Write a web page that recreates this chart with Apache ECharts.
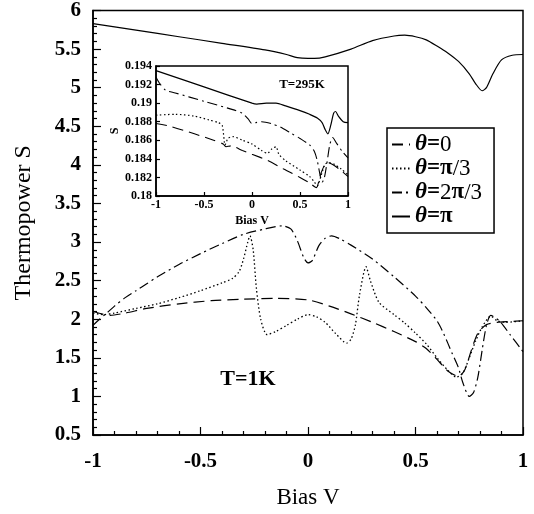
<!DOCTYPE html>
<html>
<head>
<meta charset="utf-8">
<script src="https://cdn.jsdelivr.net/npm/echarts@6/dist/echarts.min.js"></script>
<style>html,body{margin:0;padding:0;background:#fff;}#c{width:534px;height:514px;}</style>
</head>
<body>
<div id="c"></div>
<script>
// ---- Data: main panel (T = 1K), [bias V, thermopower S]
const names = ['θ=0', 'θ=π/3', 'θ=2π/3', 'θ=π'];
const xTicks = [-1, -0.5, 0, 0.5, 1];

const main_theta0 = [[-1,2.1],[-0.96,2.07],[-0.92,2.05],[-0.85,2.08],[-0.75,2.14],[-0.6,2.2],[-0.45,2.24],[-0.3,2.26],[-0.15,2.27],[0,2.25],[0.1,2.17],[0.2,2.07],[0.3,1.96],[0.4,1.84],[0.5,1.71],[0.55,1.62],[0.6,1.48],[0.65,1.33],[0.7,1.26],[0.73,1.35],[0.76,1.6],[0.79,1.82],[0.83,1.93],[0.88,1.96],[0.94,1.97],[1,1.98]];

const main_thetaPi3 = [[-1,2.08],[-0.95,2.06],[-0.9,2.08],[-0.8,2.14],[-0.7,2.2],[-0.6,2.28],[-0.5,2.37],[-0.4,2.47],[-0.35,2.53],[-0.32,2.62],[-0.3,2.78],[-0.28,3.0],[-0.27,3.08],[-0.255,2.9],[-0.24,2.4],[-0.22,2.0],[-0.19,1.8],[-0.15,1.84],[-0.1,1.92],[-0.05,2.0],[0,2.06],[0.04,2.03],[0.08,1.96],[0.13,1.81],[0.18,1.69],[0.2,1.74],[0.22,1.92],[0.24,2.32],[0.27,2.68],[0.29,2.5],[0.33,2.22],[0.4,2.06],[0.45,1.95],[0.5,1.82],[0.55,1.68],[0.6,1.5],[0.65,1.34],[0.69,1.25],[0.72,1.3],[0.75,1.5],[0.78,1.72],[0.81,1.9],[0.85,2.04],[0.88,1.98],[0.92,1.96],[1,1.98]];

const main_theta2Pi3 = [[-1,1.92],[-0.97,2.0],[-0.94,2.07],[-0.9,2.17],[-0.85,2.28],[-0.8,2.37],[-0.75,2.46],[-0.7,2.55],[-0.6,2.71],[-0.5,2.85],[-0.4,2.98],[-0.3,3.1],[-0.2,3.17],[-0.12,3.21],[-0.08,3.17],[-0.05,3.02],[-0.02,2.8],[0,2.73],[0.02,2.76],[0.05,2.95],[0.08,3.05],[0.11,3.08],[0.15,3.04],[0.2,2.96],[0.3,2.78],[0.4,2.55],[0.5,2.3],[0.55,2.15],[0.6,1.98],[0.63,1.82],[0.67,1.56],[0.7,1.37],[0.72,1.18],[0.75,1.0],[0.77,1.05],[0.79,1.25],[0.81,1.6],[0.83,1.92],[0.85,2.05],[0.89,1.98],[0.94,1.8],[1,1.58]];

const main_thetaPi = [[-1,5.83],[-0.8,5.745],[-0.6,5.66],[-0.4,5.575],[-0.2,5.49],[-0.1,5.43],[-0.05,5.39],[0,5.38],[0.03,5.38],[0.08,5.4],[0.2,5.5],[0.3,5.61],[0.4,5.67],[0.45,5.68],[0.5,5.66],[0.55,5.62],[0.6,5.54],[0.65,5.45],[0.7,5.34],[0.75,5.18],[0.78,5.05],[0.81,4.96],[0.83,5.0],[0.86,5.18],[0.9,5.36],[0.95,5.42],[1,5.43]];

// ---- Data: inset (T = 295K)
const inset_theta0 = [[-1,0.1878],[-0.85,0.1875],[-0.6,0.1867],[-0.4,0.1860],[-0.3,0.1856],[-0.27,0.1853],[-0.22,0.1854],[-0.1,0.1849],[0,0.1845],[0.17,0.1838],[0.33,0.1829],[0.5,0.1820],[0.6,0.1814],[0.67,0.1809],[0.71,0.1822],[0.75,0.1832],[0.79,0.1836],[0.84,0.1834],[0.92,0.1828],[1,0.1821]];
const inset_thetaPi3 = [[-1,0.1887],[-0.8,0.1888],[-0.6,0.1886],[-0.45,0.1882],[-0.35,0.1879],[-0.31,0.1876],[-0.28,0.1855],[-0.25,0.1862],[-0.2,0.1864],[-0.1,0.186],[0,0.1856],[0.1,0.1849],[0.16,0.1846],[0.21,0.1851],[0.25,0.1853],[0.28,0.1845],[0.35,0.1838],[0.5,0.1828],[0.6,0.1821],[0.65,0.1815],[0.68,0.1811],[0.72,0.1822],[0.76,0.1834],[0.8,0.1836],[0.86,0.1834],[0.93,0.1829],[1,0.1823]];
const inset_theta2Pi3 = [[-1,0.1928],[-0.96,0.1921],[-0.9,0.1914],[-0.8,0.1911],[-0.5,0.1902],[-0.2,0.1893],[-0.1,0.1889],[-0.04,0.1883],[0,0.1878],[0.04,0.1879],[0.1,0.188],[0.2,0.1878],[0.3,0.1874],[0.4,0.1868],[0.5,0.1862],[0.6,0.1855],[0.65,0.1848],[0.68,0.1838],[0.71,0.1822],[0.73,0.1815],[0.75,0.1818],[0.78,0.1835],[0.81,0.1855],[0.84,0.1863],[0.88,0.1857],[0.94,0.1848],[1,0.1841]];
const inset_thetaPi = [[-1,0.1935],[-0.5,0.19175],[0,0.1900],[0.05,0.1899],[0.15,0.1900],[0.25,0.1900],[0.35,0.1897],[0.5,0.1892],[0.6,0.1888],[0.68,0.1884],[0.73,0.1879],[0.76,0.1872],[0.79,0.1867],[0.82,0.1876],[0.85,0.1889],[0.87,0.1891],[0.9,0.1886],[0.95,0.188],[1,0.1879]];

const SERIF = '"Liberation Serif","DejaVu Serif",serif';
const dashes = [[11, 6], [1.5, 2.5], [10, 4, 2, 4], 'solid'];

function mk(name, data, k, axis, w) {
  return {
    name: name, type: 'line', data: data, xAxisIndex: axis, yAxisIndex: axis,
    showSymbol: false, symbol: 'none', smooth: 0.25, animation: false, z: 3,
    itemStyle: { color: '#000' },
    lineStyle: { color: '#000', width: w, type: dashes[k] }
  };
}

const tickStyle = { color: '#000', width: 1.2 };
const axisLineStyle = { onZero: false, lineStyle: { color: '#000', width: 1.5 } };
const chart = echarts.init(document.getElementById('c'), null, { renderer: 'canvas' });
const legendFmt = {
  'θ=0': '{it|θ}{b|=}{n|0}',
  'θ=π/3': '{it|θ}{b|=π}{n|/3}',
  'θ=2π/3': '{it|θ}{b|=}{n|2}{b|π}{n|/3}',
  'θ=π': '{it|θ}{b|=π}'
};
chart.setOption({
  backgroundColor: '#fff',
  animation: false,
  grid: [
    { left: 93, right: 11, top: 10, bottom: 75, show: true, borderColor: '#000', borderWidth: 1.5, backgroundColor: 'transparent' },
    { left: 156, right: 186, top: 66, bottom: 318, show: true, borderColor: '#000', borderWidth: 1.5, backgroundColor: '#fff' }
  ],
  xAxis: [
    { gridIndex: 0, type: 'value', min: -1, max: 1, interval: 0.5,
      name: 'Bias V', nameLocation: 'middle', nameGap: 51,
      nameTextStyle: { fontFamily: SERIF, fontSize: 23, color: '#000' },
      axisLine: axisLineStyle,
      axisTick: { inside: true, length: 8, lineStyle: tickStyle },
      minorTick: { show: true, splitNumber: 5, length: 4, lineStyle: tickStyle },
      axisLabel: { fontFamily: SERIF, fontSize: 21, fontWeight: 'bold', color: '#000', margin: 16 },
      splitLine: { show: false }, minorSplitLine: { show: false } },
    { gridIndex: 1, type: 'value', min: -1, max: 1, interval: 0.5,
      name: 'Bias V', nameLocation: 'middle', nameGap: 19,
      nameTextStyle: { fontFamily: SERIF, fontSize: 12, fontWeight: 'bold', color: '#000' },
      axisLine: axisLineStyle,
      axisTick: { inside: true, length: 4, lineStyle: tickStyle },
      axisLabel: { fontFamily: SERIF, fontSize: 12, fontWeight: 'bold', color: '#000', margin: 3 },
      splitLine: { show: false } }
  ],
  yAxis: [
    { gridIndex: 0, type: 'value', min: 0.5, max: 6, interval: 0.5,
      name: 'Thermopower S', nameLocation: 'middle', nameGap: 57,
      nameTextStyle: { fontFamily: SERIF, fontSize: 24, color: '#000' },
      axisLine: axisLineStyle,
      axisTick: { inside: true, length: 8, lineStyle: tickStyle },
      minorTick: { show: true, splitNumber: 5, length: 4, lineStyle: tickStyle },
      axisLabel: { fontFamily: SERIF, fontSize: 21, fontWeight: 'bold', color: '#000', margin: 12 },
      splitLine: { show: false }, minorSplitLine: { show: false } },
    { gridIndex: 1, type: 'value', min: 0.18, max: 0.194, interval: 0.002,
      name: 'S', nameLocation: 'middle', nameGap: 31,
      nameTextStyle: { fontFamily: SERIF, fontSize: 12, fontWeight: 'bold', color: '#000' },
      axisLine: axisLineStyle,
      axisTick: { inside: true, length: 4, lineStyle: tickStyle },
      axisLabel: { fontFamily: SERIF, fontSize: 12, fontWeight: 'bold', color: '#000', margin: 4 },
      splitLine: { show: false } }
  ],
  legend: {
    data: names, orient: 'vertical', left: 387, top: 128,
    itemWidth: 18, itemHeight: 10, itemGap: 1,
    padding: [5, 12, 5, 4],
    borderColor: '#000', borderWidth: 1.5, backgroundColor: '#fff',
    selectedMode: false,
    itemStyle: { color: 'rgba(0,0,0,0)', borderWidth: 0, borderColor: 'rgba(0,0,0,0)' },
    formatter: function (n) { return legendFmt[n]; },
    textStyle: {
      color: '#000', fontFamily: SERIF, fontSize: 23, lineHeight: 22,
      rich: {
        it: { fontFamily: SERIF, fontSize: 23, fontStyle: 'italic', fontWeight: 'bold', color: '#000' },
        b: { fontFamily: SERIF, fontSize: 23, fontWeight: 'bold', color: '#000' },
        n: { fontFamily: SERIF, fontSize: 23, color: '#000' }
      }
    }
  },
  graphic: [
    { type: 'text', style: { text: 'T=1K', x: 248, y: 379, align: 'center', verticalAlign: 'middle', font: 'bold 22px ' + SERIF, fill: '#000' }, z: 10 },
    { type: 'text', style: { text: 'T=295K', x: 302, y: 85, align: 'center', verticalAlign: 'middle', font: 'bold 13px ' + SERIF, fill: '#000' }, z: 10 }
  ],
  series: [
    mk(names[0], main_theta0, 0, 0, 1.2),
    mk(names[1], main_thetaPi3, 1, 0, 1.3),
    mk(names[2], main_theta2Pi3, 2, 0, 1.2),
    mk(names[3], main_thetaPi, 3, 0, 1.2),
    mk('i0', inset_theta0, 0, 1, 1.1),
    mk('i1', inset_thetaPi3, 1, 1, 1.2),
    mk('i2', inset_theta2Pi3, 2, 1, 1.1),
    mk('i3', inset_thetaPi, 3, 1, 1.2)
  ]
});
</script>
</body>
</html>
